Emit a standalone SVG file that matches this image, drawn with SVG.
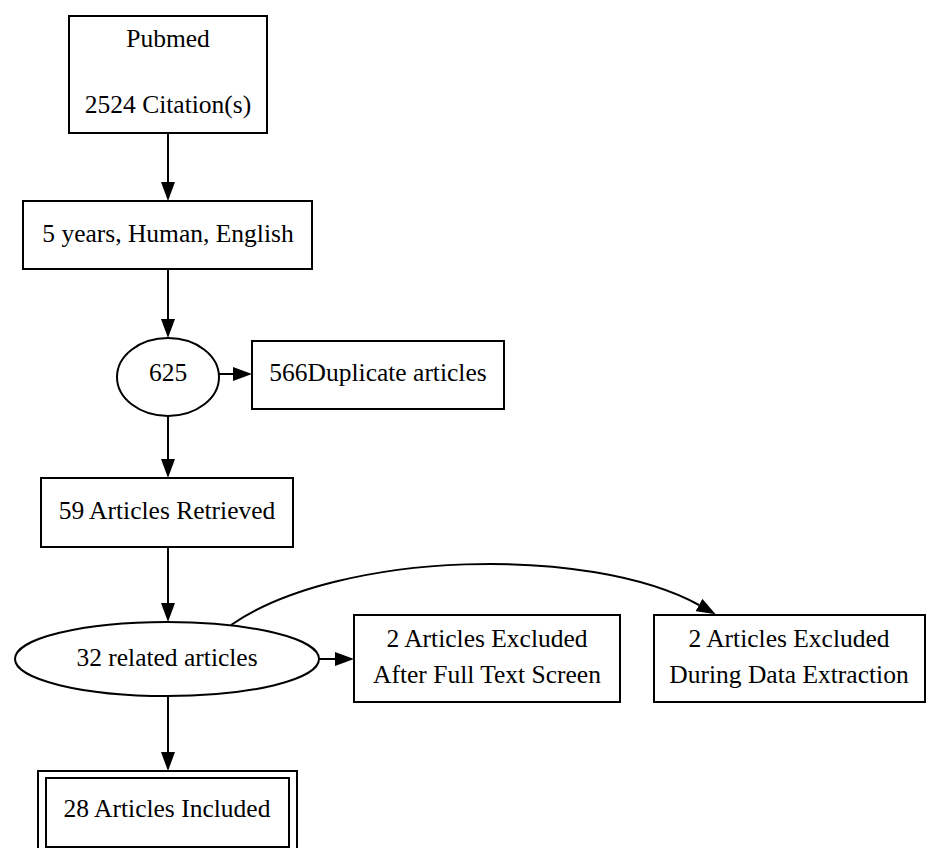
<svg xmlns="http://www.w3.org/2000/svg" width="927" height="848" viewBox="0 0 927 848">
<style>
.n{fill:#fff;stroke:#000;stroke-width:2}
.t{font-family:"Liberation Serif","Times New Roman",serif;font-size:25.5px;fill:#000;text-anchor:middle}
.e{fill:none;stroke:#000;stroke-width:2}
</style>
<defs>
<marker id="ah" markerUnits="userSpaceOnUse" viewBox="0 -7 19 14" markerWidth="19" markerHeight="14" refX="0" refY="0" orient="auto">
<path d="M0,-7 L19,0 L0,7 z" fill="#000"/>
</marker>
</defs>
<rect width="927" height="848" fill="#fff"/>
<g id="connectors">
<line class="e" x1="168" y1="133" x2="168" y2="182" marker-end="url(#ah)"/>
<line class="e" x1="168" y1="269" x2="168" y2="319" marker-end="url(#ah)"/>
<line class="e" x1="219" y1="374" x2="233" y2="374" marker-end="url(#ah)"/>
<line class="e" x1="168" y1="416" x2="168" y2="459" marker-end="url(#ah)"/>
<line class="e" x1="168" y1="547" x2="168" y2="603" marker-end="url(#ah)"/>
<line class="e" x1="319" y1="659" x2="335" y2="659" marker-end="url(#ah)"/>
<path class="e" d="M231,625 C340,550 590,545 699,605" marker-end="url(#ah)"/>
<line class="e" x1="168" y1="695" x2="168" y2="752" marker-end="url(#ah)"/>
</g>
<g id="pubmed">
<rect class="n" x="69" y="16" width="198" height="117"/>
<text class="t" x="168" y="47">Pubmed</text>
<text class="t" x="168" y="113">2524 Citation(s)</text>
</g>
<g id="filter">
<rect class="n" x="23" y="201" width="289" height="68"/>
<text class="t" x="168" y="242">5 years, Human, English</text>
</g>
<g id="n625">
<ellipse class="n" cx="168" cy="377" rx="51" ry="39"/>
<text class="t" x="168" y="381">625</text>
</g>
<g id="duplicates">
<rect class="n" x="252" y="341" width="252" height="68"/>
<text class="t" x="378" y="381">566Duplicate articles</text>
</g>
<g id="retrieved">
<rect class="n" x="41" y="478" width="252" height="69"/>
<text class="t" x="167" y="519">59 Articles Retrieved</text>
</g>
<g id="related">
<ellipse class="n" cx="167" cy="659" rx="152" ry="37"/>
<text class="t" x="167" y="666">32 related articles</text>
</g>
<g id="excluded-fulltext">
<rect class="n" x="354" y="615" width="266" height="87"/>
<text class="t" x="487" y="647">2 Articles Excluded</text>
<text class="t" x="487" y="683">After Full Text Screen</text>
</g>
<g id="excluded-extraction">
<rect class="n" x="654" y="615" width="271" height="87"/>
<text class="t" x="789" y="647">2 Articles Excluded</text>
<text class="t" x="789" y="683">During Data Extraction</text>
</g>
<g id="included">
<rect class="n" x="38" y="771" width="259" height="86"/>
<rect class="n" x="46" y="778" width="243" height="69"/>
<text class="t" x="167" y="817">28 Articles Included</text>
</g>
</svg>
